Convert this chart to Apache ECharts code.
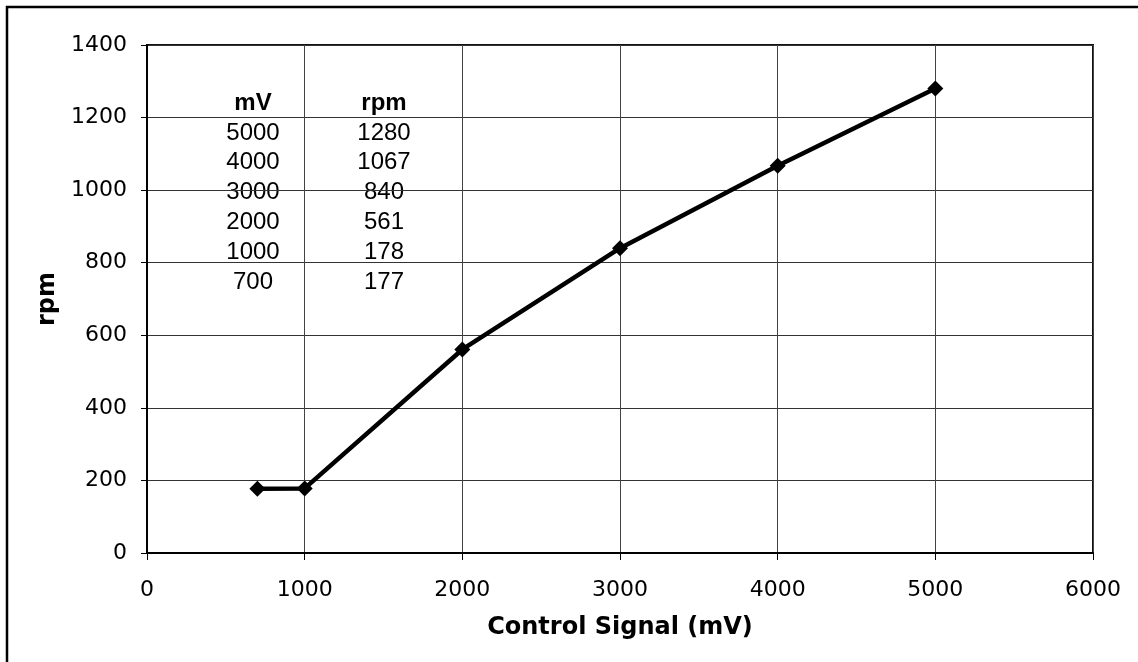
<!DOCTYPE html>
<html>
<head>
<meta charset="utf-8">
<script src="https://cdn.jsdelivr.net/npm/echarts@6/dist/echarts.min.js"></script>
<style>
  html, body { margin: 0; padding: 0; background: #fff; }
  #chart { width: 1138px; height: 662px; }
</style>
</head>
<body>
<div id="chart"></div>
<script>
// Measured fan speed against the control signal
const signalMv = [700, 1000, 2000, 3000, 4000, 5000];
const speedRpm = [177, 178, 561, 840, 1067, 1280];

// Table column headings
const tableHeaders = ['mV', 'rpm'];

// Axis titles
const xTitle = 'Control Signal (mV)';
const yTitle = 'rpm';

const chart = echarts.init(document.getElementById('chart'), null, { renderer: 'canvas' });

const points = signalMv.map((v, i) => [v, speedRpm[i]]);

// Inset value table, listed from the highest signal down
const tableRows = signalMv.map((v, i) => [v, speedRpm[i]]).reverse();
const colCenters = [253, 384];
const headerY = 103;
const rowY0 = 133;
const rowStep = 29.8;

const tableGraphics = [];
tableHeaders.forEach((h, c) => {
  tableGraphics.push({
    type: 'text',
    x: colCenters[c], y: headerY,
    style: {
      text: h, fill: '#000', align: 'center', verticalAlign: 'middle',
      font: 'bold 24px "Liberation Sans", Arial, sans-serif'
    }
  });
});
tableRows.forEach((row, r) => {
  row.forEach((val, c) => {
    tableGraphics.push({
      type: 'text',
      x: colCenters[c], y: rowY0 + r * rowStep,
      style: {
        text: String(val), fill: '#000', align: 'center', verticalAlign: 'middle',
        font: '24px "Liberation Sans", Arial, sans-serif'
      }
    });
  });
});

// Outer chart frame
tableGraphics.unshift({
  type: 'rect',
  shape: { x: 7, y: 7, width: 1200, height: 700 },
  style: { fill: 'none', stroke: '#000', lineWidth: 2.5 },
  silent: true,
  z: 0
});

const tickFont = '"DejaVu Sans", Verdana, sans-serif';
const plainNumber = (v) => String(v);

chart.setOption({
  animation: false,
  backgroundColor: '#fff',
  grid: {
    left: 147, right: 45, top: 45, bottom: 109,
    show: true, borderColor: '#111', borderWidth: 2, backgroundColor: '#fff'
  },
  xAxis: {
    type: 'value', min: 0, max: 6000, interval: 1000,
    name: xTitle, nameLocation: 'middle', nameGap: 63,
    nameTextStyle: { fontFamily: tickFont, fontWeight: 'bold', fontSize: 24, color: '#000' },
    axisLine: { show: true, onZero: false, lineStyle: { color: '#000', width: 2 } },
    axisTick: { show: true, inside: false, length: 7, lineStyle: { color: '#000', width: 1 } },
    axisLabel: { fontFamily: tickFont, fontSize: 22, color: '#000', margin: 26, formatter: plainNumber },
    splitLine: { show: true, lineStyle: { color: '#444', width: 1 } }
  },
  yAxis: {
    type: 'value', min: 0, max: 1400, interval: 200,
    name: yTitle, nameLocation: 'middle', nameGap: 84,
    nameTextStyle: { fontFamily: tickFont, fontWeight: 'bold', fontSize: 24, color: '#000' },
    axisLine: { show: true, onZero: false, lineStyle: { color: '#000', width: 2 } },
    axisTick: { show: true, inside: false, length: 6, lineStyle: { color: '#000', width: 1 } },
    axisLabel: { fontFamily: tickFont, fontSize: 22, color: '#000', margin: 20, formatter: plainNumber },
    splitLine: { show: true, lineStyle: { color: '#333', width: 1 } }
  },
  series: [{
    type: 'line',
    data: points,
    symbol: 'diamond',
    symbolSize: 16,
    showAllSymbol: true,
    lineStyle: { color: '#000', width: 4.5 },
    itemStyle: { color: '#000' },
    z: 3
  }],
  graphic: tableGraphics
});
</script>
</body>
</html>
